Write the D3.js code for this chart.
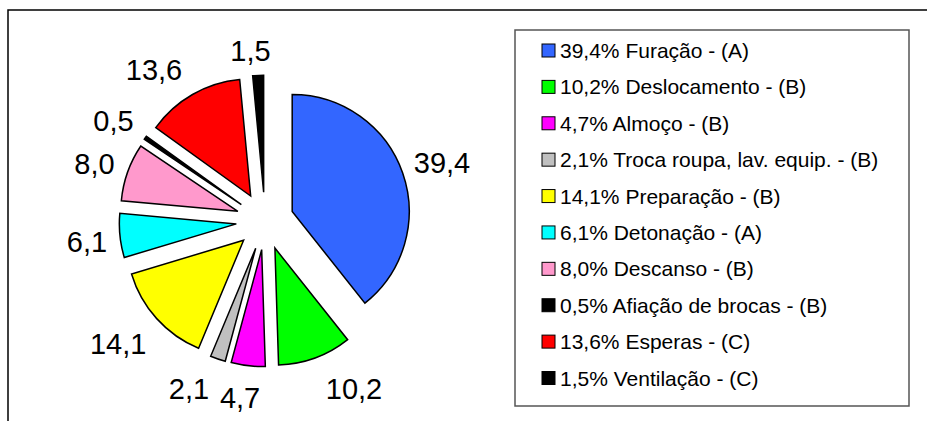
<!DOCTYPE html>
<html>
<head>
<meta charset="utf-8">
<script src="https://cdn.jsdelivr.net/npm/d3@7"></script>
<style>
  body { margin: 0; background: #fff; }
  text { font-family: "Liberation Sans", Arial, sans-serif; fill: #000; }
</style>
</head>
<body>
<div id="container"></div>
<script>
// chart data
const categories = ["Furação - (A)", "Deslocamento - (B)", "Almoço - (B)",
  "Troca roupa, lav. equip. - (B)", "Preparação - (B)", "Detonação - (A)",
  "Descanso - (B)", "Afiação de brocas - (B)", "Esperas - (C)", "Ventilação - (C)"];
const values = [39.4, 10.2, 4.7, 2.1, 14.1, 6.1, 8.0, 0.5, 13.6, 1.5];
const colors = ["#3366FF", "#00FF00", "#FF00FF", "#C0C0C0", "#FFFF00",
  "#00FFFF", "#FF99CC", "#000000", "#FF0000", "#000000"];

// small tweaks for where the value labels sat in the original
const labelNudge = [[-1.5, -2.5], [24, 7], [-4, 6.5], [-17.5, 6], [-6.5, 8],
  [2, 3.5], [0, 0], [-3, -2.5], [-17, -3], [-6, 1]];

const width = 927;
const height = 421;
const cx = 265, cy = 221;
const radius = 117;
const explode = 28.8;
const labelGap = 15;
const labelSize = 29;
const legendSize = 21;

const fmt = (v) => d3.format(".1f")(v).replace(".", ",");

const svg = d3.select("#container")
  .append("svg")
  .attr("width", width)
  .attr("height", height);

// outer chart frame (runs past the window on right and bottom)
svg.append("rect")
  .attr("x", 8).attr("y", 10)
  .attr("width", 1000).attr("height", 500)
  .attr("fill", "none")
  .attr("stroke", "#000")
  .attr("stroke-width", 1.5);

const pie = d3.pie().sort(null).value((d) => d);
const arcs = pie(values);
const arc = d3.arc().innerRadius(0).outerRadius(radius);

const dir = (d) => {
  const a = (d.startAngle + d.endAngle) / 2;
  return [Math.sin(a), -Math.cos(a)];
};

const g = svg.append("g").attr("transform", `translate(${cx},${cy})`);

g.selectAll("path")
  .data(arcs)
  .enter()
  .append("path")
  .attr("d", arc)
  .attr("fill", (d, i) => colors[i])
  .attr("stroke", "#000")
  .attr("stroke-width", 1.5)
  .attr("stroke-linejoin", "miter")
  .attr("transform", (d) => {
    const u = dir(d);
    return `translate(${u[0] * explode},${u[1] * explode})`;
  });

// value labels outside each slice
g.selectAll("text.val")
  .data(arcs)
  .enter()
  .append("text")
  .attr("class", "val")
  .attr("font-size", labelSize)
  .attr("text-anchor", "middle")
  .text((d) => fmt(d.data))
  .each(function (d, i) {
    const u = dir(d);
    const w = this.getComputedTextLength();
    const h = labelSize * 0.716;
    const rr = radius + explode + labelGap;
    const x = u[0] * rr + u[0] * w / 2 + labelNudge[i][0];
    const y = u[1] * rr + u[1] * h / 2 + labelNudge[i][1];
    d3.select(this).attr("x", x).attr("y", y + h / 2);
  });

// legend
svg.append("rect")
  .attr("x", 515).attr("y", 30)
  .attr("width", 394).attr("height", 376)
  .attr("fill", "#fff")
  .attr("stroke", "#555")
  .attr("stroke-width", 1.5);

const rowY = d3.scalePoint()
  .domain(d3.range(categories.length))
  .range([50.5, 378]);

const legend = svg.append("g")
  .selectAll("g")
  .data(categories)
  .enter()
  .append("g")
  .attr("transform", (d, i) => `translate(0,${rowY(i)})`);

legend.append("rect")
  .attr("x", 542).attr("y", -6.5)
  .attr("width", 13).attr("height", 13)
  .attr("fill", (d, i) => colors[i])
  .attr("stroke", "#000")
  .attr("stroke-width", 1);

legend.append("text")
  .attr("x", 560)
  .attr("y", legendSize * 0.716 / 2)
  .attr("font-size", legendSize)
  .text((d, i) => `${fmt(values[i])}% ${d}`);
</script>
</body>
</html>
